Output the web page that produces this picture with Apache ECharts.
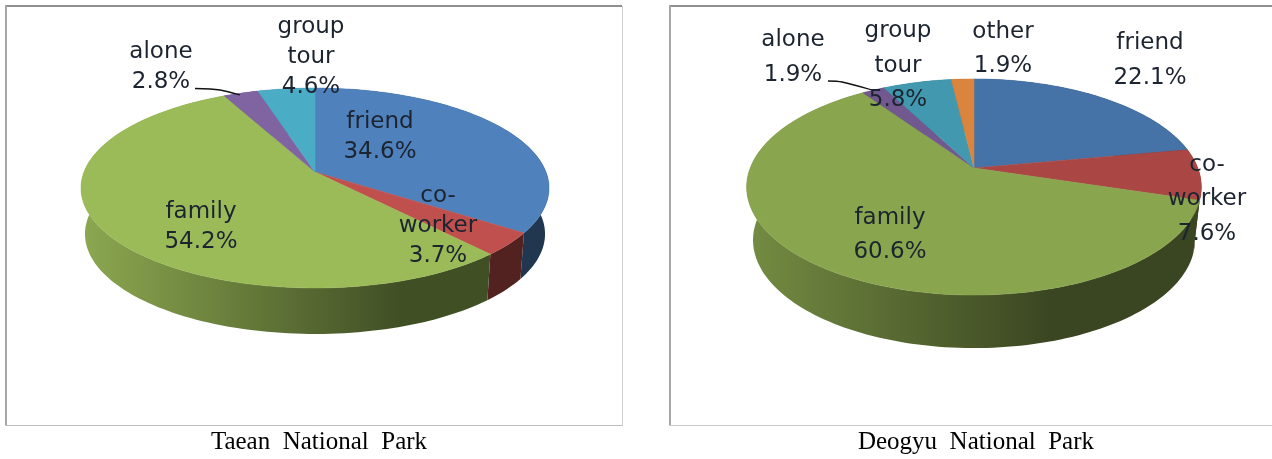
<!DOCTYPE html>
<html>
<head>
<meta charset="utf-8">
<style>html,body{margin:0;padding:0;background:#fff}#c{width:1272px;height:459px}</style>
<script src="https://cdn.jsdelivr.net/npm/echarts@6/dist/echarts.min.js"></script>
</head>
<body>
<div id="c"></div>
<script>
// ---- data ----
const taeanNames  = ['friend', 'co-\nworker', 'family', 'alone', 'group\ntour'];
const taeanValues = [34.6, 3.7, 54.2, 2.8, 4.6];
const deogyuNames  = ['friend', 'co-\nworker', 'family', 'alone', 'group\ntour', 'other'];
const deogyuValues = [22.1, 7.6, 60.6, 1.9, 5.8, 1.9];
const captions = ['Taean  National  Park', 'Deogyu  National  Park'];

// ---- presentation ----
const taeanColors  = ['#4f81bd', '#c0504d', '#9bbb59', '#8064a2', '#4bacc6'];
const deogyuColors = ['#4572a7', '#aa4643', '#89a54e', '#71588f', '#4198af', '#db843d'];
const pies = [
  { names: taeanNames, values: taeanValues, colors: taeanColors,
    cx: 315, cy: 172, A: 231, B: 97.4, p: 0.16, dy: 46, kx: 0.983, ky: 1,
    wallLight: 0.9, wallDark: 0.42, left: 81, right: 549, lineHeight: 30,
    labelAt: [[380,137],[438,226],[201,227.5],[161,67],[311,57]],
    leader: [[195,88.5],[220,90],[240,95]] },
  { names: deogyuNames, values: deogyuValues, colors: deogyuColors,
    cx: 974, cy: 168, A: 223.8, B: 104.7, p: 0.176, dy: 53, kx: 0.972, ky: 1,
    wallLight: 0.85, wallDark: 0.42, left: 746, right: 1201, lineHeight: 34.5,
    labelAt: [[1150,60.5],[1207,199.5],[890,235],[793,57.5],[898,66],[1003,49]],
    leader: [[828,81],[842,82],[872,90]] }
];

function shade(hex, k) {
  const n = parseInt(hex.slice(1), 16);
  const c = s => Math.round(((n >> s) & 255) * k);
  return 'rgb(' + c(16) + ',' + c(8) + ',' + c(0) + ')';
}
function spans(values) {
  const total = values.reduce((a, b) => a + b, 0);
  let acc = 0;
  return values.map((v, i) => {
    const a = acc / total * 360; acc += v;
    return [a, acc / total * 360, i];
  });
}
// project the angle (clockwise from 12 o'clock) on the tilted disc
function rim(pie, deg, lower) {
  const t = deg * Math.PI / 180, u = Math.sin(t), v = Math.cos(t);
  const s = 1 / (1 + pie.p * v);
  const kx = lower ? pie.kx : 1, ky = lower ? pie.ky : 1, dy = lower ? pie.dy : 0;
  return [pie.cx + pie.A * u * s * kx, pie.cy + dy - pie.B * v * s * ky];
}
function arc(pie, a, b, lower) {
  const pts = [], n = Math.max(2, Math.ceil((b - a) / 1.5));
  for (let i = 0; i <= n; i++) pts.push(rim(pie, a + (b - a) * i / n, lower));
  return pts;
}
function wallSeries(pie) {
  return { type: 'custom', coordinateSystem: 'none', silent: true, z: 2, data: spans(pie.values),
    renderItem: (params, api) => {
      const a = api.value(0), b = api.value(1), col = pie.colors[api.value(2)];
      const points = arc(pie, a, b, false).concat(arc(pie, a, b, true).reverse());
      const x1 = pie.left + (pie.right - pie.left) * 0.68;
      return { type: 'polygon', shape: { points }, style: {
        fill: new echarts.graphic.LinearGradient(pie.left, 0, x1, 0, [
          { offset: 0, color: shade(col, pie.wallLight) },
          { offset: 1, color: shade(col, pie.wallDark) }], true) } };
    } };
}
function topSeries(pie) {
  return { type: 'custom', coordinateSystem: 'none', silent: true, z: 3, data: spans(pie.values),
    renderItem: (params, api) => {
      const a = api.value(0), b = api.value(1), col = pie.colors[api.value(2)];
      const points = [[pie.cx, pie.cy]].concat(arc(pie, a, b, false));
      return { type: 'polygon', shape: { points }, style: { fill: col, stroke: col, lineWidth: 0.5 } };
    } };
}
function labelSeries(pie) {
  return { type: 'custom', coordinateSystem: 'none', silent: true, z: 4, data: spans(pie.values),
    renderItem: (params, api) => {
      const i = api.value(2), at = pie.labelAt[i];
      const children = [{ type: 'text', x: at[0], y: at[1], style: {
        text: pie.names[i] + '\n' + pie.values[i].toFixed(1) + '%',
        fontFamily: '"DejaVu Sans"', fontSize: 23, lineHeight: pie.lineHeight,
        fill: '#1c2430', align: 'center', verticalAlign: 'middle' } }];
      if (pie.names[i] === 'alone') children.push({ type: 'polyline', shape: { points: pie.leader, smooth: 0.3 },
        style: { stroke: '#111', lineWidth: 1.3, fill: null } });
      return { type: 'group', children };
    } };
}
const line = (x1, y1, x2, y2, stroke, lineWidth) => ({ type: 'line', shape: { x1, y1, x2, y2 }, style: { stroke, lineWidth } });

const chart = echarts.init(document.getElementById('c'), null, { renderer: 'canvas' });
chart.setOption({
  animation: false,
  backgroundColor: '#fff',
  graphic: [
    line(6, 6, 622, 6, '#8f8f8f', 2), line(6, 5, 6, 426, '#a6a6a6', 2),
    line(622.5, 6, 622.5, 426, '#d0d0d0', 1), line(5, 425.5, 622, 425.5, '#bdbdbd', 1),
    line(670, 6, 1272, 6, '#8f8f8f', 2), line(670, 5, 670, 426, '#a6a6a6', 2),
    line(669, 425.5, 1272, 425.5, '#c8c8c8', 1),
    { type: 'text', x: 319, y: 442, style: { text: captions[0], fontFamily: '"Liberation Serif"', fontSize: 25, fill: '#000', align: 'center', verticalAlign: 'middle' } },
    { type: 'text', x: 976, y: 442, style: { text: captions[1], fontFamily: '"Liberation Serif"', fontSize: 25, fill: '#000', align: 'center', verticalAlign: 'middle' } }
  ],
  series: pies.flatMap(p => [wallSeries(p), topSeries(p), labelSeries(p)])
});
</script>
</body>
</html>
